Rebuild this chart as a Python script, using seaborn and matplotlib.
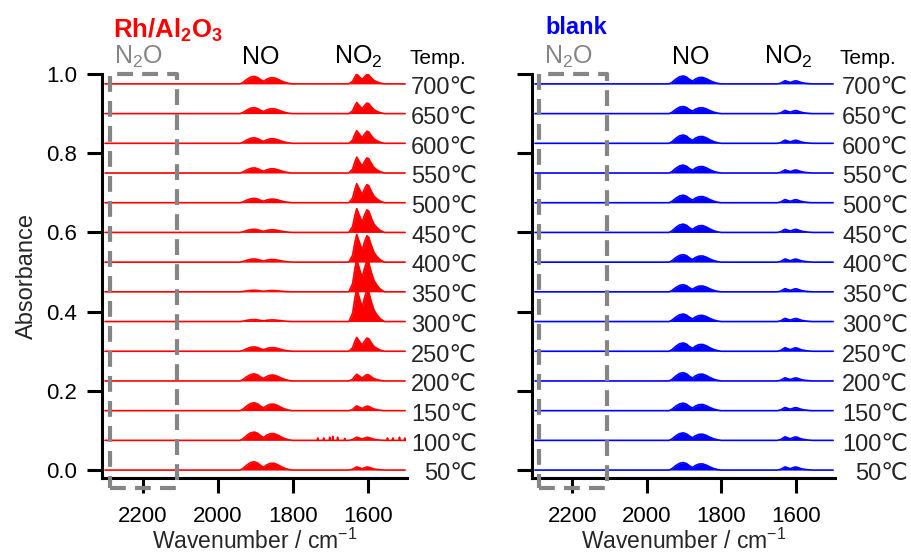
import numpy as np
import pandas as pd
import matplotlib
matplotlib.use("Agg")
import matplotlib.pyplot as plt
import matplotlib.transforms as mtrans
from matplotlib.patches import Rectangle
import seaborn as sns

# ===============================
# DATA
# ===============================
temps = [50, 100, 150, 200, 250, 300, 350, 400, 450, 500, 550, 600, 650, 700]

# peak heights of the NO and NO2 bands for each temperature
rh_no = [0.021, 0.021, 0.020, 0.018, 0.011, 0.005, 0.004, 0.008, 0.008, 0.011, 0.013, 0.014, 0.015, 0.019]
rh_no2 = [0.008, 0.008, 0.012, 0.017, 0.035, 0.083, 0.082, 0.070, 0.060, 0.048, 0.040, 0.032, 0.028, 0.025]
blank_no = [0.019, 0.019, 0.019, 0.021, 0.021, 0.019, 0.018, 0.019, 0.021, 0.019, 0.020, 0.021, 0.018, 0.020]
blank_no2 = [0.008, 0.009, 0.008, 0.008, 0.009, 0.008, 0.008, 0.008, 0.008, 0.008, 0.008, 0.008, 0.008, 0.008]

# band envelopes (wavenumber, relative height)
no_env_x = [1940, 1932, 1922, 1912, 1902, 1893, 1885, 1877, 1870, 1860, 1850, 1840, 1830, 1820, 1810, 1800]
no_env_y = [0.0, 0.2, 0.6, 0.9, 1.0, 0.85, 0.55, 0.35, 0.6, 0.8, 0.82, 0.65, 0.4, 0.2, 0.07, 0.0]
no2_env_x = [1650, 1640, 1634, 1629, 1624, 1619, 1614, 1609, 1602, 1597, 1590, 1583, 1575, 1566, 1555]
no2_env_y = [0.0, 0.25, 0.7, 1.0, 0.8, 0.6, 0.45, 0.7, 0.95, 0.9, 0.6, 0.35, 0.2, 0.08, 0.0]

# water lines seen on the Rh/Al2O3 100 C trace
water_x = [1733, 1717, 1701, 1693, 1680, 1661, 1547, 1533, 1515, 1501]
water_h = [0.006, 0.006, 0.008, 0.010, 0.008, 0.005, 0.006, 0.006, 0.008, 0.006]

STEP = 0.075
RED = "#FF0000"
BLUE = "#0000FF"
GRAY = "#858585"

# ===============================
# STYLE
# ===============================
sns.set_style("ticks")
plt.rcParams["font.family"] = ["Liberation Sans", "DejaVu Sans"]
plt.rcParams["mathtext.fontset"] = "custom"
plt.rcParams["mathtext.rm"] = "Liberation Sans"
plt.rcParams["mathtext.it"] = "Liberation Sans:italic"
plt.rcParams["mathtext.bf"] = "Liberation Sans:bold"

W, H = 912, 555


def build(no_h, no2_h, spikes=False):
    rows = []
    for i, t in enumerate(temps):
        off = i * STEP
        xs = [2300] + no_env_x + no2_env_x + [1500]
        ys = [0] + [no_h[i] * v for v in no_env_y] + [no2_h[i] * v for v in no2_env_y] + [0]
        if spikes and t == 100:
            for wx, wh in zip(water_x, water_h):
                xs += [wx + 1.5, wx, wx - 1.5]
                ys += [0, wh, 0]
        order = np.argsort(xs)[::-1]
        for k in order:
            rows.append({"wavenumber": xs[k], "absorbance": off + ys[k], "temp": t, "base": off})
    return pd.DataFrame(rows)


def draw_panel(ax, df, color, label_x):
    sns.lineplot(data=df, x="wavenumber", y="absorbance", units="temp", estimator=None,
                 sort=False, color=color, lw=1.2, ax=ax, legend=False)
    for t, g in df.groupby("temp"):
        ax.fill_between(g["wavenumber"], g["base"], g["absorbance"], color=color, lw=0)

    ax.set_xlim(2308, 1495)
    ax.set_ylim(-0.02, 1.0)
    ax.set_xticks([2200, 2000, 1800, 1600])
    ax.set_yticks([0.0, 0.2, 0.4, 0.6, 0.8, 1.0])
    sns.despine(ax=ax)
    for s in ["left", "bottom"]:
        ax.spines[s].set_linewidth(2.2)
        ax.spines[s].set_color("black")
    ax.tick_params(axis="both", direction="out", length=11, width=2.2, labelsize=16, colors="black")
    ax.tick_params(axis="x", pad=9)
    ax.tick_params(axis="y", pad=7)
    ax.set_xlabel("Wavenumber / cm$^{-1}$", fontsize=16.5, va="bottom")
    ax.xaxis.set_label_coords(0.5, -(554 - 478) / 404)

    # N2O region box
    rect = Rectangle((2288, -0.045), 2107 - 2288, 1.045, fill=False, ec=GRAY, lw=3,
                     ls=(0, (3.8, 2.2)), clip_on=False, joinstyle="round", zorder=5)
    ax.add_patch(rect)

    # temperature labels
    trans = mtrans.blended_transform_factory(ax.transAxes, ax.transData)
    for i, t in enumerate(temps):
        ax.text(label_x, i * STEP - 0.011, f"{t}\u2103", transform=trans,
                ha="right", va="center", fontsize=17)


fig = plt.figure(figsize=(W / 100, H / 100), dpi=100)
ax1 = fig.add_axes([102 / W, 1 - 478 / H, 305 / W, 404 / H])
ax2 = fig.add_axes([532 / W, 1 - 478 / H, 303 / W, 404 / H])

draw_panel(ax1, build(rh_no, rh_no2, spikes=True), RED, (477 - 102) / 305)
draw_panel(ax2, build(blank_no, blank_no2), BLUE, (908 - 532) / 303)

ax1.set_ylabel("Absorbance", fontsize=17, labelpad=6)
ax1.set_yticklabels([f"{v:.1f}" for v in [0.0, 0.2, 0.4, 0.6, 0.8, 1.0]])
ax2.set_ylabel("")
ax2.set_yticklabels([])


def ftext(x, y, s, **kw):
    fig.text(x / W, 1 - y / H, s, va="center", **kw)


# panel headers
ftext(113, 30, r"$\mathbf{Rh/Al_2O_3}$", color=RED, fontsize=18.5)
ftext(545, 27, "blank", color=BLUE, fontsize=17, fontweight="bold")
for dx in [0, 430]:
    ftext(114 + dx, 57, "N$_2$O", color=GRAY, fontsize=18)
    ftext(242 + dx, 57, "NO", color="black", fontsize=18)
    ftext(334 + dx, 57, "NO$_2$", color="black", fontsize=18)
    ftext(410 + dx, 58, "Temp.", color="black", fontsize=15)

fig.savefig("out.png", dpi=100)
